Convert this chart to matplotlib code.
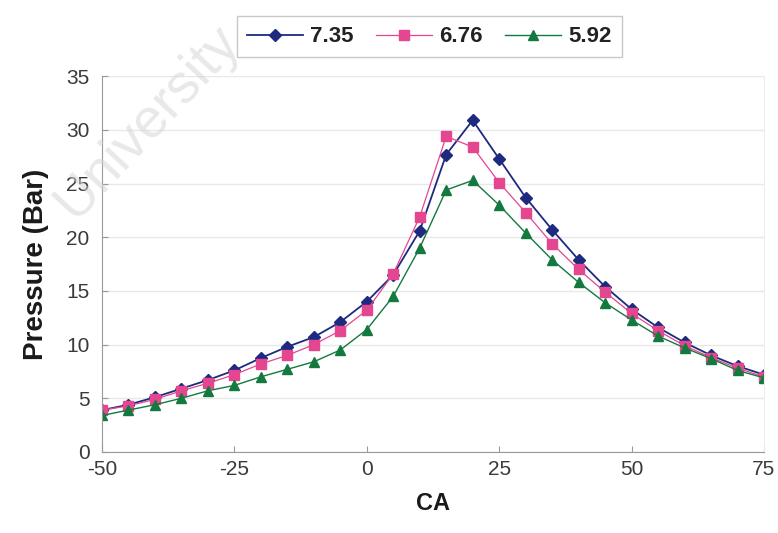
import matplotlib
matplotlib.use("Agg")
import matplotlib.pyplot as plt

# Crank angle (deg) and cylinder pressure (bar) for three compression cases
ca = [-50, -45, -40, -35, -30, -25, -20, -15, -10, -5, 0, 5, 10, 15, 20,
      25, 30, 35, 40, 45, 50, 55, 60, 65, 70, 75]
p_735 = [3.9, 4.4, 5.1, 5.9, 6.7, 7.6, 8.75, 9.8, 10.7, 12.1, 14.0, 16.5,
         20.6, 27.7, 30.9, 27.3, 23.7, 20.7, 17.9, 15.4, 13.3, 11.6, 10.2,
         9.0, 8.0, 7.2]
p_676 = [3.9, 4.3, 4.9, 5.7, 6.4, 7.2, 8.2, 9.0, 10.0, 11.3, 13.2, 16.6,
         21.9, 29.4, 28.4, 25.1, 22.3, 19.4, 17.0, 14.9, 12.9, 11.3, 9.9,
         8.8, 7.8, 7.0]
p_592 = [3.4, 3.9, 4.4, 5.0, 5.7, 6.2, 7.0, 7.7, 8.4, 9.5, 11.4, 14.5,
         19.0, 24.4, 25.3, 23.0, 20.4, 17.9, 15.8, 13.9, 12.3, 10.8, 9.7,
         8.7, 7.6, 6.9]
labels = ["7.35", "6.76", "5.92"]
x_ticks = [-50, -25, 0, 25, 50, 75]
y_ticks = [0, 5, 10, 15, 20, 25, 30, 35]

plt.rcParams["font.family"] = ["Liberation Sans", "DejaVu Sans"]
plt.rcParams["axes.unicode_minus"] = False

fig = plt.figure(figsize=(7.78, 5.33), dpi=100)
ax = fig.add_axes([0.131, 0.152, 0.851, 0.705])

styles = [
    dict(color="#1d2a80", marker="D", markersize=6, lw=1.3),
    dict(color="#e4468f", marker="s", markersize=6.5, lw=0.9),
    dict(color="#14793f", marker="^", markersize=7.5, lw=1.0),
]
for y, lab, st in zip([p_735, p_676, p_592], labels, styles):
    ax.plot(ca, y, label=lab, color=st["color"], lw=st["lw"],
            marker=st["marker"], markersize=st["markersize"],
            markerfacecolor=st["color"], markeredgecolor=st["color"])

ax.set_xlim(-50, 75)
ax.set_ylim(0, 35)
ax.set_xticks(x_ticks)
ax.set_yticks(y_ticks)
ax.yaxis.grid(True, color="#e8e8e8", lw=1.0)
ax.set_axisbelow(True)

ax.spines["top"].set_visible(False)
ax.spines["right"].set_color("#ededed")
ax.spines["left"].set_color("#999999")
ax.spines["bottom"].set_color("#999999")
ax.tick_params(axis="both", direction="in", length=4, color="#999999",
               labelsize=15, labelcolor="#3a3a3a")
ax.tick_params(axis="x", pad=6)
ax.tick_params(axis="y", pad=9)

ax.set_xlabel("CA", fontsize=17, fontweight="bold", color="#1a1a1a", labelpad=9)
ax.set_ylabel("Pressure (Bar)", fontsize=20, fontweight="bold",
              color="#1a1a1a", labelpad=12)

leg = fig.legend(loc="upper center", bbox_to_anchor=(0.552, 0.99), ncol=3,
                 prop={"weight": "bold", "size": 16},
                 frameon=True, fancybox=False, handlelength=2.5,
                 handletextpad=0.35, columnspacing=1.0, borderpad=0.45)
leg.get_frame().set_edgecolor("#bbbbbb")
leg.get_frame().set_linewidth(1.0)
for t in leg.get_texts():
    t.set_color("#222222")

# faint watermark across the upper-left corner
fig.text(0.19, 0.77, "University", fontsize=40, color="#d6d6d6",
         rotation=47, ha="center", va="center", zorder=10, alpha=0.55)

fig.savefig("out.png", dpi=100)
